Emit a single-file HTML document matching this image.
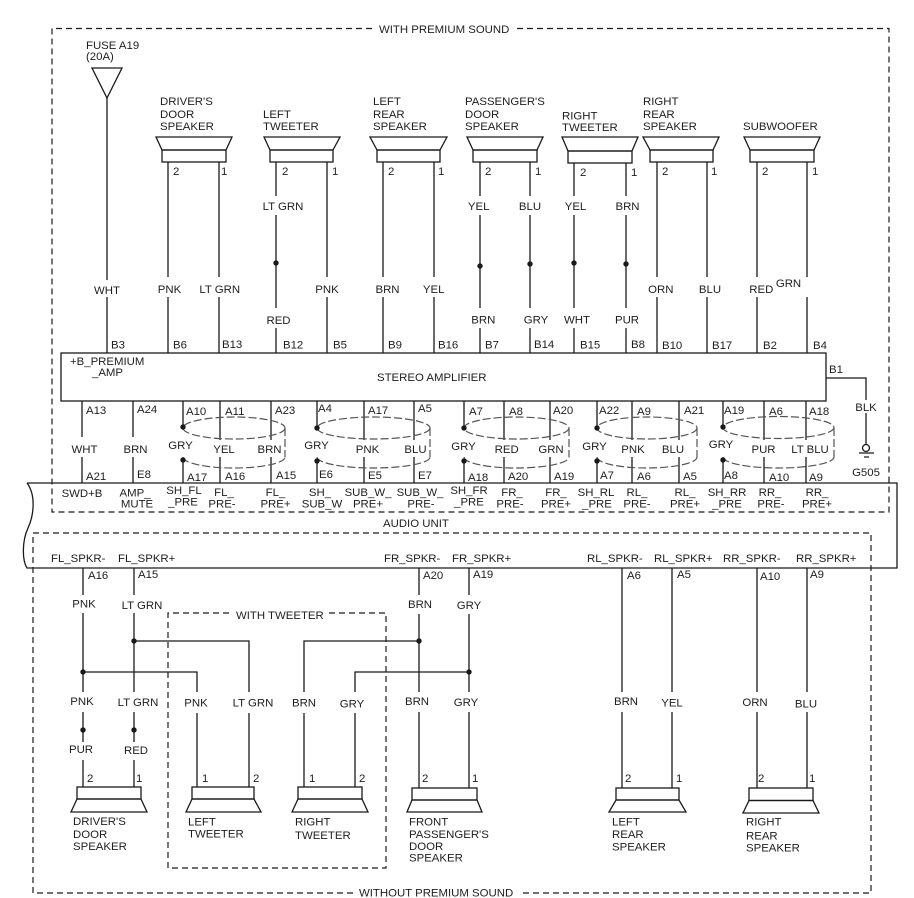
<!DOCTYPE html>
<html><head><meta charset="utf-8"><style>
html,body{margin:0;padding:0;background:#fff;}
svg{display:block;}
text{font-family:"Liberation Sans",Arial,sans-serif;font-size:11.4px;fill:#1e1e1e;}
.m{text-anchor:middle;}
.l{stroke:#1a1a1a;stroke-width:1.3;fill:none;}
.d{stroke:#1a1a1a;stroke-width:1.2;fill:none;stroke-dasharray:6 4;}
.e{stroke:#555;stroke-width:1.2;fill:none;stroke-dasharray:8 3;}
.dot{fill:#1a1a1a;}
</style></head><body>
<svg width="914" height="898" viewBox="0 0 914 898" xmlns="http://www.w3.org/2000/svg">
<!-- dashed boxes -->
<path class="d" d="M372,28.5 H52 V512 H889 V28.5 H516"/>
<path class="d" d="M353,893 H33 V533 H871 V893 H522"/>
<path class="d" d="M229,613 H168 V868 H386 V613 H328"/>
<text x="379" y="33">WITH PREMIUM SOUND</text>
<text x="359" y="896.5">WITHOUT PREMIUM SOUND</text>
<text x="236" y="619">WITH TWEETER</text>

<!-- fuse -->
<text x="86" y="49">FUSE A19</text>
<text x="86" y="60">(20A)</text>
<path class="l" d="M92,68 H122 L107,98 Z"/>
<path class="l" d="M107,98 V280 M107,297 V353"/>
<text class="m" x="107" y="294">WHT</text>

<!-- top speakers -->
<g class="l">
<path d="M156,137 H232 L226,150 H162 Z"/><rect x="162" y="150" width="64" height="12"/>
<path d="M264,137 H340 L333,150 H270 Z"/><rect x="270" y="150" width="63" height="12"/>
<path d="M370,137 H447 L440,150 H377 Z"/><rect x="377" y="150" width="63" height="12"/>
<path d="M467,137 H543 L537,150 H473 Z"/><rect x="473" y="150" width="64" height="12"/>
<path d="M562,137 H638 L632,151 H568 Z"/><rect x="568" y="151" width="64" height="12"/>
<path d="M643,137 H719 L713,150 H650 Z"/><rect x="650" y="150" width="63" height="12"/>
<path d="M744,137 H820 L814,150 H750 Z"/><rect x="750" y="150" width="64" height="12"/>
</g>
<text x="160" y="105">DRIVER'S</text><text x="160" y="118">DOOR</text><text x="160" y="130">SPEAKER</text>
<text x="263" y="118">LEFT</text><text x="263" y="130">TWEETER</text>
<text x="373" y="105">LEFT</text><text x="373" y="118">REAR</text><text x="373" y="130">SPEAKER</text>
<text x="465" y="105">PASSENGER'S</text><text x="465" y="118">DOOR</text><text x="465" y="130">SPEAKER</text>
<text x="562" y="119.5">RIGHT</text><text x="562" y="131">TWEETER</text>
<text x="643" y="105">RIGHT</text><text x="643" y="118">REAR</text><text x="643" y="130">SPEAKER</text>
<text x="743" y="130">SUBWOOFER</text>

<text x="173" y="175">2</text><text x="221" y="175">1</text>
<text x="282" y="175">2</text><text x="332" y="175">1</text>
<text x="388" y="175">2</text><text x="438" y="175">1</text>
<text x="485" y="175">2</text><text x="535" y="175">1</text>
<text x="580" y="176">2</text><text x="631" y="176">1</text>
<text x="662" y="175">2</text><text x="711" y="175">1</text>
<text x="762" y="175">2</text><text x="812" y="175">1</text>

<!-- top wires -->
<g class="l">
<path d="M168,162 V277 M168,297 V353"/>
<path d="M219,162 V277 M219,297 V353"/>
<path d="M276,162 V196 M276,215 V308 M276,328 V353"/>
<path d="M327,162 V277 M327,297 V353"/>
<path d="M383,162 V277 M383,297 V353"/>
<path d="M434,162 V277 M434,297 V353"/>
<path d="M480,162 V196 M480,215 V308 M480,328 V353"/>
<path d="M530,162 V196 M530,215 V308 M530,328 V353"/>
<path d="M574,163 V196 M574,215 V308 M574,328 V353"/>
<path d="M626,163 V196 M626,215 V308 M626,328 V353"/>
<path d="M657,162 V277 M657,297 V353"/>
<path d="M707,162 V277 M707,297 V353"/>
<path d="M757,162 V277 M757,297 V353"/>
<path d="M807,162 V277 M807,297 V353"/>
</g>
<circle class="dot" cx="276" cy="263" r="2.7"/>
<circle class="dot" cx="480" cy="266" r="2.7"/>
<circle class="dot" cx="530" cy="264" r="2.7"/>
<circle class="dot" cx="574" cy="263" r="2.7"/>
<circle class="dot" cx="626" cy="264" r="2.7"/>

<text class="m" x="169.5" y="293">PNK</text>
<text class="m" x="219.7" y="293">LT GRN</text>
<text class="m" x="283" y="210">LT GRN</text>
<text class="m" x="278.5" y="324">RED</text>
<text class="m" x="327" y="293">PNK</text>
<text class="m" x="387.5" y="293">BRN</text>
<text class="m" x="433.7" y="293">YEL</text>
<text class="m" x="478.7" y="210">YEL</text>
<text class="m" x="530" y="210">BLU</text>
<text class="m" x="575.5" y="210">YEL</text>
<text class="m" x="627.5" y="210">BRN</text>
<text class="m" x="483.3" y="323.5">BRN</text>
<text class="m" x="536" y="323.5">GRY</text>
<text class="m" x="577" y="323.5">WHT</text>
<text class="m" x="627" y="323.5">PUR</text>
<text class="m" x="660.8" y="293">ORN</text>
<text class="m" x="710" y="293">BLU</text>
<text class="m" x="761.3" y="293">RED</text>
<text class="m" x="788.5" y="287">GRN</text>

<text x="111" y="348.5">B3</text><text x="173" y="348.5">B6</text><text x="222" y="348">B13</text>
<text x="283" y="348.5">B12</text><text x="333" y="348.5">B5</text><text x="388" y="348.5">B9</text>
<text x="438" y="348.5">B16</text><text x="485" y="348.5">B7</text><text x="534" y="348">B14</text>
<text x="580" y="348.5">B15</text><text x="631" y="348">B8</text><text x="662" y="349">B10</text>
<text x="712" y="349">B17</text><text x="763" y="349">B2</text><text x="813" y="349">B4</text>

<!-- stereo amplifier -->
<rect class="l" x="61" y="353" width="765" height="48"/>
<text x="70" y="365">+B_PREMIUM</text>
<text x="92" y="376">_AMP</text>
<text x="377" y="381">STEREO AMPLIFIER</text>
<text x="829" y="373">B1</text>
<path class="l" d="M826,378 H866 V400 M866,413 V444.5"/>
<text class="m" x="866" y="411">BLK</text>
<circle class="l" cx="866" cy="448" r="3.5"/>
<path class="l" d="M859,453 H874 M864,457 H869"/>
<text class="m" x="866" y="476">G505</text>

<!-- amp connector wires -->
<g class="l">
<path d="M82,401 V437 M82,457 V483"/>
<path d="M133,401 V437 M133,457 V483"/>
<path d="M183,401 V427 M183,460 V483"/>
<path d="M220,401 V440 M220,457 V483"/>
<path d="M271,401 V440 M271,457 V483"/>
<path d="M317,401 V428 M317,461 V483"/>
<path d="M364,401 V440 M364,457 V483"/>
<path d="M414,401 V440 M414,457 V483"/>
<path d="M464,401 V428 M464,461 V483"/>
<path d="M504,401 V440 M504,457 V483"/>
<path d="M550,401 V440 M550,457 V483"/>
<path d="M597,401 V428 M597,461 V483"/>
<path d="M632,401 V440 M632,457 V483"/>
<path d="M679,401 V440 M679,457 V483"/>
<path d="M723,401 V427 M723,460 V483"/>
<path d="M764,401 V440 M764,457 V483"/>
<path d="M806,401 V440 M806,457 V483"/>
</g>
<!-- shield ellipses -->
<g class="e">
<ellipse cx="234" cy="428" rx="51" ry="11"/>
<path d="M285,428 V457 M183,457 A51,11 0 0 0 285,457"/>
<ellipse cx="373.5" cy="428" rx="56.5" ry="11"/>
<path d="M430,428 V457 M317,457 A56.5,11 0 0 0 430,457"/>
<ellipse cx="516.5" cy="428" rx="52.5" ry="11"/>
<path d="M569,428 V457 M464,457 A52.5,11 0 0 0 569,457"/>
<ellipse cx="647" cy="428" rx="50" ry="11"/>
<path d="M697,428 V457 M597,457 A50,11 0 0 0 697,457"/>
<ellipse cx="778.5" cy="427.5" rx="55.5" ry="11"/>
<path d="M834,428 V457 M723,457 A55.5,11 0 0 0 834,457"/>
</g>
<g class="dot">
<circle cx="183" cy="427" r="2.7"/><circle cx="183" cy="460" r="2.7"/>
<circle cx="317" cy="428" r="2.7"/><circle cx="317" cy="461" r="2.7"/>
<circle cx="464" cy="428" r="2.7"/><circle cx="464" cy="461" r="2.7"/>
<circle cx="597" cy="428" r="2.7"/><circle cx="597" cy="461" r="2.7"/>
<circle cx="723" cy="427" r="2.7"/><circle cx="723" cy="460" r="2.7"/>
</g>

<text x="86" y="414">A13</text><text x="137" y="413">A24</text><text x="186" y="415">A10</text>
<text x="225" y="415">A11</text><text x="275" y="414">A23</text><text x="318" y="412">A4</text>
<text x="368" y="414">A17</text><text x="418" y="412">A5</text><text x="469" y="415">A7</text>
<text x="509" y="415">A8</text><text x="553" y="414">A20</text><text x="599" y="414">A22</text>
<text x="637" y="415">A9</text><text x="684" y="414">A21</text><text x="724" y="414">A19</text>
<text x="769" y="415">A6</text><text x="809" y="415">A18</text>

<text class="m" x="84.5" y="453">WHT</text>
<text class="m" x="135.5" y="453">BRN</text>
<text class="m" x="180.5" y="449">GRY</text>
<text class="m" x="224" y="453">YEL</text>
<text class="m" x="269.5" y="453">BRN</text>
<text class="m" x="316.5" y="449">GRY</text>
<text class="m" x="367.5" y="453">PNK</text>
<text class="m" x="415.5" y="453">BLU</text>
<text class="m" x="463.5" y="450">GRY</text>
<text class="m" x="506.7" y="453">RED</text>
<text class="m" x="551" y="453">GRN</text>
<text class="m" x="594.5" y="450">GRY</text>
<text class="m" x="633" y="453">PNK</text>
<text class="m" x="673" y="453">BLU</text>
<text class="m" x="721" y="448">GRY</text>
<text class="m" x="763.5" y="453">PUR</text>
<text class="m" x="810" y="453">LT BLU</text>

<text x="86" y="480">A21</text><text x="137" y="478">E8</text><text x="187" y="481">A17</text>
<text x="225" y="480">A16</text><text x="276" y="479">A15</text><text x="319" y="478">E6</text>
<text x="368" y="479">E5</text><text x="418" y="479">E7</text><text x="468" y="481">A18</text>
<text x="508" y="480">A20</text><text x="554" y="480">A19</text><text x="600" y="479">A7</text>
<text x="637" y="480">A6</text><text x="683" y="480">A5</text><text x="724" y="479">A8</text>
<text x="769" y="481">A10</text><text x="809" y="481">A9</text>

<!-- audio unit -->
<path class="l" d="M27,483 H897 V568 H27 C22,560 22,541 28,528 C34,515 36,495 27,483"/>
<text class="m" x="82" y="497">SWD+B</text>
<text class="m" x="135" y="496.5">AMP_</text><text class="m" x="137" y="507.5">MUTE</text>
<text class="m" x="184" y="494">SH_FL</text><text class="m" x="183" y="505.5">_PRE</text>
<text class="m" x="224" y="496">FL_</text><text class="m" x="222" y="507.5">PRE-</text>
<text class="m" x="275.5" y="496">FL_</text><text class="m" x="275.5" y="507.5">PRE+</text>
<text class="m" x="320" y="496">SH_</text><text class="m" x="322" y="507.5">SUB_W</text>
<text class="m" x="368" y="496">SUB_W_</text><text class="m" x="368" y="507.5">PRE+</text>
<text class="m" x="420" y="496">SUB_W_</text><text class="m" x="421" y="507.5">PRE-</text>
<text class="m" x="469" y="494">SH_FR</text><text class="m" x="469" y="505.5">_PRE</text>
<text class="m" x="512" y="496">FR_</text><text class="m" x="510" y="507.5">PRE-</text>
<text class="m" x="556" y="496">FR_</text><text class="m" x="556" y="507.5">PRE+</text>
<text class="m" x="596" y="496">SH_RL</text><text class="m" x="597" y="507.5">_PRE</text>
<text class="m" x="637" y="496">RL_</text><text class="m" x="637" y="507.5">PRE-</text>
<text class="m" x="685" y="496">RL_</text><text class="m" x="685" y="507.5">PRE+</text>
<text class="m" x="727" y="496">SH_RR</text><text class="m" x="727" y="507.5">_PRE</text>
<text class="m" x="770" y="496">RR_</text><text class="m" x="771" y="507.5">PRE-</text>
<text class="m" x="817" y="496">RR_</text><text class="m" x="817" y="507.5">PRE+</text>
<text x="383" y="527">AUDIO UNIT</text>

<text x="51" y="562">FL_SPKR-</text><text x="118" y="562">FL_SPKR+</text>
<text x="384" y="562">FR_SPKR-</text><text x="452" y="562">FR_SPKR+</text>
<text x="587" y="562">RL_SPKR-</text><text x="654" y="562">RL_SPKR+</text>
<text x="723" y="562">RR_SPKR-</text><text x="796" y="562">RR_SPKR+</text>

<text x="88" y="579">A16</text><text x="138" y="578">A15</text>
<text x="423" y="579">A20</text><text x="473" y="578">A19</text>
<text x="627" y="579">A6</text><text x="677" y="578">A5</text>
<text x="760" y="580">A10</text><text x="810" y="578">A9</text>

<!-- bottom wires -->
<g class="l">
<path d="M83,568 V595 M83,613 V692 M83,712 V742 M83,760 V787"/>
<path d="M134,568 V595 M134,613 V692 M134,712 V742 M134,760 V787"/>
<path d="M134,641 H249 V692 M249,713 V787"/>
<path d="M83,672 H197 V692 M197,713 V787"/>
<path d="M419,568 V595 M419,614 V692 M419,712 V788"/>
<path d="M469,568 V595 M469,614 V692 M469,712 V788"/>
<path d="M419,641 H304 V692 M304,713 V787"/>
<path d="M469,672 H355 V692 M355,713 V787"/>
<path d="M622,568 V692 M622,712 V788"/>
<path d="M672,568 V692 M672,712 V788"/>
<path d="M757,568 V692 M757,712 V788"/>
<path d="M807,568 V692 M807,712 V788"/>
</g>
<g class="dot">
<circle cx="134" cy="641" r="2.7"/><circle cx="83" cy="672" r="2.7"/>
<circle cx="419" cy="641" r="2.7"/><circle cx="469" cy="672" r="2.7"/>
<circle cx="83" cy="730" r="2.7"/><circle cx="134" cy="730" r="2.7"/>
</g>

<text class="m" x="84" y="607.5">PNK</text>
<text class="m" x="142" y="609">LT GRN</text>
<text class="m" x="420" y="608">BRN</text>
<text class="m" x="469" y="609">GRY</text>
<text class="m" x="82" y="705">PNK</text>
<text class="m" x="138" y="706">LT GRN</text>
<text class="m" x="196" y="706.5">PNK</text>
<text class="m" x="253" y="706.5">LT GRN</text>
<text class="m" x="304" y="706.5">BRN</text>
<text class="m" x="352" y="707.5">GRY</text>
<text class="m" x="417" y="705">BRN</text>
<text class="m" x="466" y="706">GRY</text>
<text class="m" x="626" y="705">BRN</text>
<text class="m" x="672" y="706.5">YEL</text>
<text class="m" x="755" y="706">ORN</text>
<text class="m" x="806" y="707.5">BLU</text>
<text class="m" x="81" y="753">PUR</text>
<text class="m" x="136" y="754">RED</text>

<!-- bottom speakers -->
<g class="l">
<rect x="77" y="787" width="64" height="12"/><path d="M77,799 H141 L147,812 H71 Z"/>
<rect x="192" y="787" width="62" height="12"/><path d="M192,799 H254 L261,812 H186 Z"/>
<rect x="298" y="787" width="64" height="12"/><path d="M298,799 H362 L368,812 H292 Z"/>
<rect x="412" y="788" width="65" height="12"/><path d="M412,800 H477 L482,812 H407 Z"/>
<rect x="616" y="788" width="63" height="12"/><path d="M616,800 H679 L686,812 H609 Z"/>
<rect x="749" y="788" width="64" height="12.5"/><path d="M749,800.5 H813 L819,813 H743 Z"/>
</g>
<text x="87" y="782">2</text><text x="136" y="782">1</text>
<text x="202" y="782">1</text><text x="253" y="782">2</text>
<text x="309" y="782">1</text><text x="359" y="782">2</text>
<text x="422" y="782">2</text><text x="472" y="782">1</text>
<text x="625" y="782">2</text><text x="676" y="782">1</text>
<text x="758" y="782">2</text><text x="809" y="782">1</text>

<text x="73" y="825">DRIVER'S</text><text x="73" y="838">DOOR</text><text x="73" y="850">SPEAKER</text>
<text x="188" y="825.5">LEFT</text><text x="188" y="837.5">TWEETER</text>
<text x="295" y="825.5">RIGHT</text><text x="295" y="839">TWEETER</text>
<text x="409" y="825.5">FRONT</text><text x="409" y="838">PASSENGER'S</text><text x="409" y="850">DOOR</text><text x="409" y="861.5">SPEAKER</text>
<text x="612" y="825.5">LEFT</text><text x="612" y="838">REAR</text><text x="612" y="850.5">SPEAKER</text>
<text x="746" y="825.5">RIGHT</text><text x="746" y="839.5">REAR</text><text x="746" y="851.5">SPEAKER</text>
</svg>
</body></html>
